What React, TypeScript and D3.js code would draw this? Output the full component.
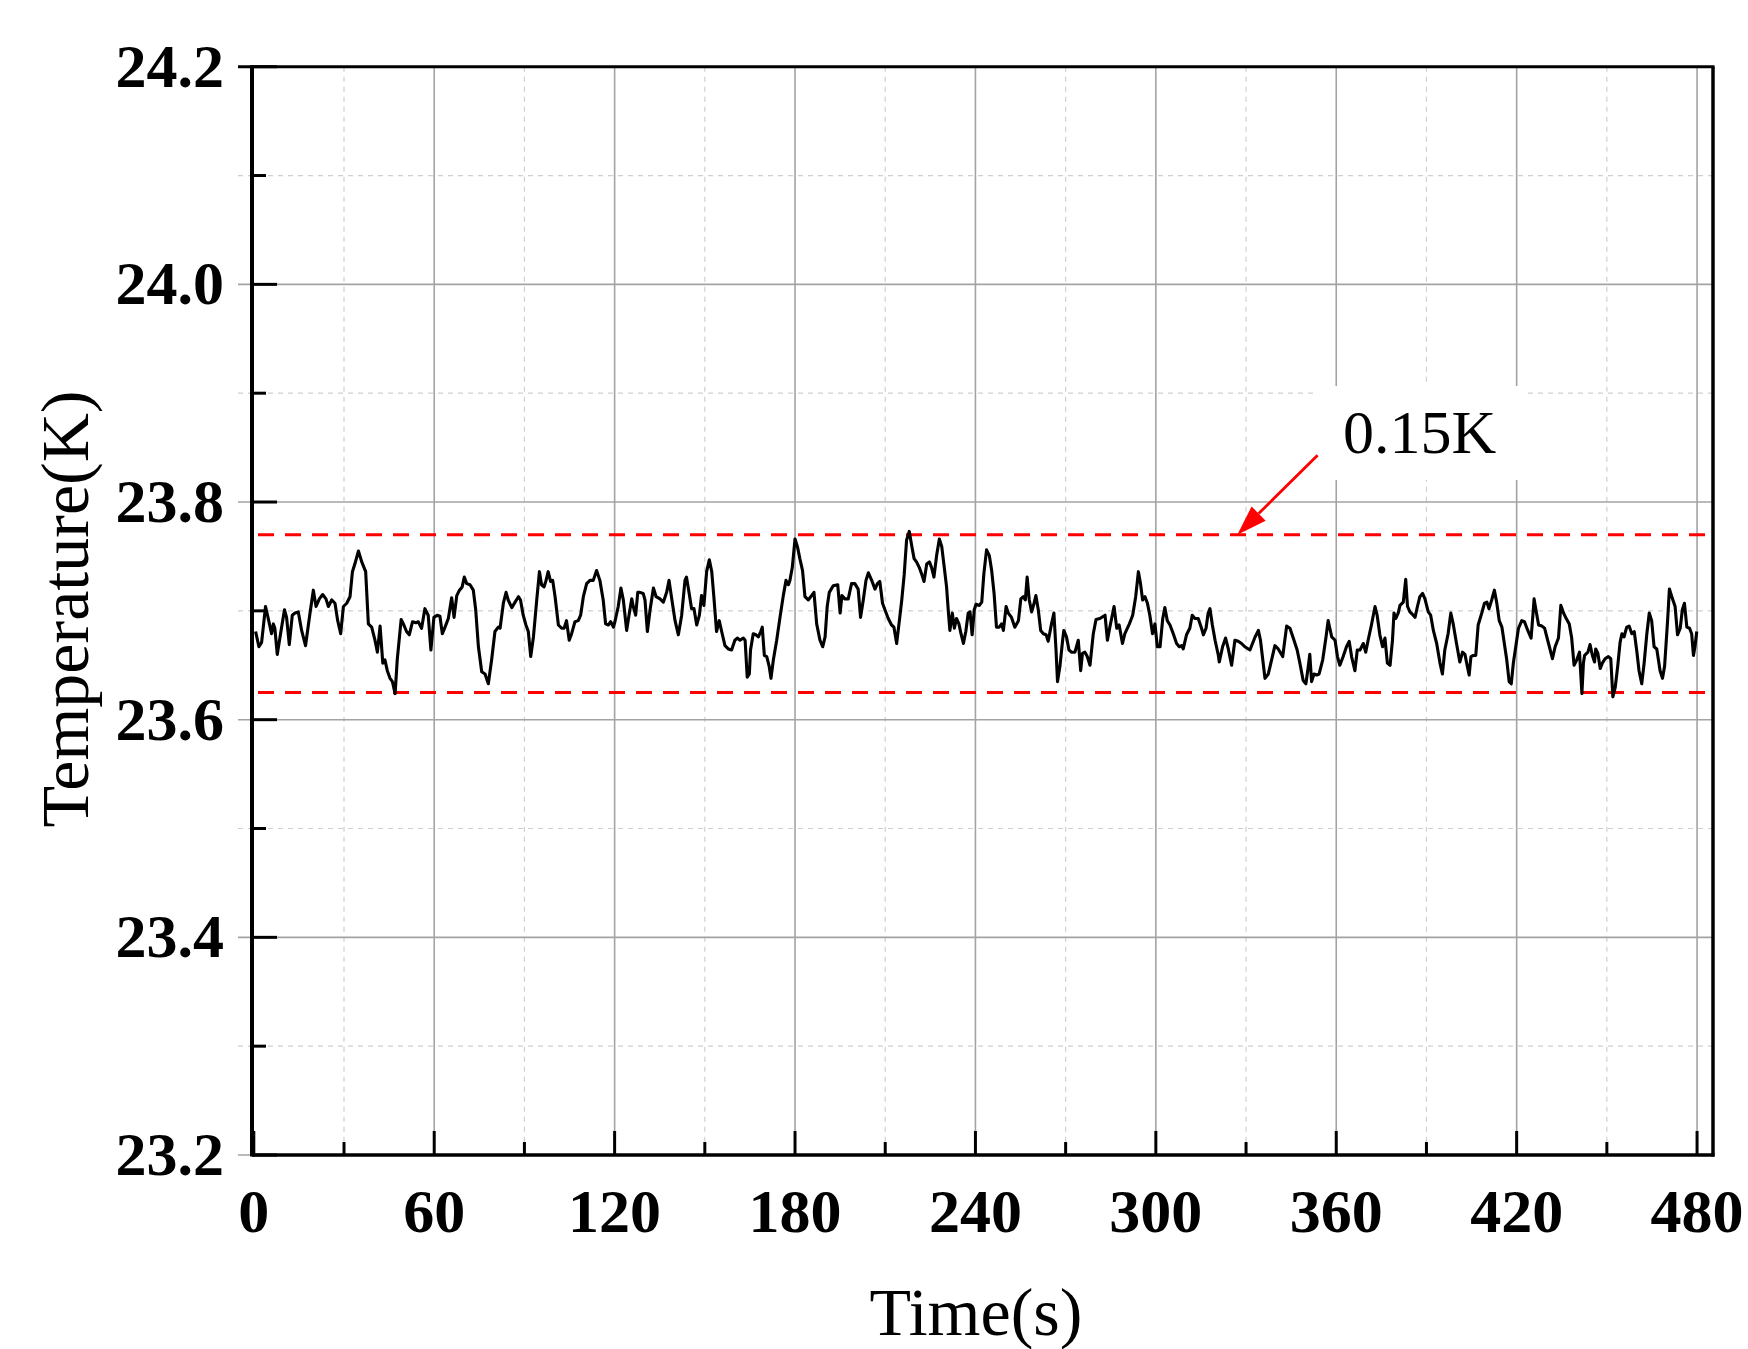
import React from 'react'
import * as d3 from 'd3'

// temperature trace, [time (s), temperature (K)]
const trace: [number, number][] = [
  [0.6, 23.681], [1.7, 23.667], [2.6, 23.671], [3.9, 23.704], [5.2, 23.688], [5.9, 23.679], [6.5, 23.688], [7.0, 23.684],
  [7.8, 23.66], [8.9, 23.679], [10.2, 23.701], [10.9, 23.694], [11.8, 23.669], [12.8, 23.696], [13.7, 23.698], [14.8, 23.699],
  [15.9, 23.682], [17.2, 23.668], [18.7, 23.698], [19.8, 23.719], [20.7, 23.704], [21.8, 23.711], [22.9, 23.715], [24.0, 23.711],
  [24.8, 23.704], [25.9, 23.71], [27.0, 23.707], [27.9, 23.691], [28.9, 23.679], [29.8, 23.704], [30.9, 23.707], [32.0, 23.713],
  [32.8, 23.736], [33.6, 23.743], [34.8, 23.755], [35.9, 23.745], [37.2, 23.736], [38.1, 23.688], [39.2, 23.685], [40.3, 23.673],
  [41.1, 23.662], [42.0, 23.686], [42.9, 23.652], [43.6, 23.655], [44.4, 23.645], [45.3, 23.638], [46.1, 23.635], [47.0, 23.624],
  [47.7, 23.655], [49.0, 23.692], [49.9, 23.687], [50.8, 23.681], [51.7, 23.678], [52.8, 23.69], [53.9, 23.689], [54.7, 23.69],
  [55.8, 23.684], [56.9, 23.702], [58.0, 23.696], [58.9, 23.664], [59.9, 23.694], [61.0, 23.696], [61.9, 23.695], [62.7, 23.679],
  [63.6, 23.685], [64.7, 23.693], [65.8, 23.712], [66.6, 23.694], [67.5, 23.714], [68.4, 23.719], [69.3, 23.722], [70.0, 23.731],
  [70.8, 23.725], [71.9, 23.724], [73.0, 23.719], [73.8, 23.701], [74.7, 23.667], [75.8, 23.644], [76.9, 23.642], [78.0, 23.633],
  [79.1, 23.655], [80.2, 23.681], [81.3, 23.685],
  [81.9, 23.684], [83.0, 23.707], [83.9, 23.717], [84.6, 23.71], [85.8, 23.703], [86.9, 23.708], [88.0, 23.713], [88.7, 23.71],
  [89.6, 23.696], [90.5, 23.687], [91.3, 23.681], [92.1, 23.658], [93.0, 23.676], [94.1, 23.71], [95.0, 23.736], [95.7, 23.724],
  [96.5, 23.722], [97.2, 23.728], [97.9, 23.736], [98.7, 23.727], [99.4, 23.728], [100.2, 23.713], [101.3, 23.687], [102.4, 23.684],
  [103.2, 23.684], [104.0, 23.691], [104.9, 23.673], [105.7, 23.679], [106.8, 23.69], [107.9, 23.691], [108.7, 23.696], [109.6, 23.713],
  [110.7, 23.725], [111.8, 23.728], [112.9, 23.728], [114.0, 23.737], [115.1, 23.728], [116.2, 23.71], [117.0, 23.688], [117.9, 23.687],
  [118.7, 23.69], [119.6, 23.685], [120.1, 23.69], [121.2, 23.704], [122.1, 23.721], [122.9, 23.71], [124.0, 23.682], [124.9, 23.698],
  [125.7, 23.711], [126.2, 23.704], [127.0, 23.696], [127.7, 23.717], [128.4, 23.717], [129.5, 23.716], [130.1, 23.71], [130.9, 23.681],
  [131.8, 23.701], [132.9, 23.721], [133.8, 23.713], [135.1, 23.711], [136.2, 23.708], [137.3, 23.717], [138.1, 23.728], [139.0, 23.711],
  [140.1, 23.691], [141.2, 23.678], [142.3, 23.696], [143.4, 23.728], [143.9, 23.731], [144.8, 23.716], [145.6, 23.702], [146.4, 23.702],
  [147.3, 23.687], [148.2, 23.696], [148.9, 23.714], [149.7, 23.705], [150.6, 23.736], [151.5, 23.747], [152.3, 23.736], [153.0, 23.713],
  [153.9, 23.681], [154.8, 23.691], [155.6, 23.681], [156.7, 23.668], [157.8, 23.665], [158.9, 23.664], [160.0, 23.673], [160.8, 23.675],
  [161.7, 23.673], [162.8, 23.675], [163.4, 23.673], [164.1, 23.639], [164.8, 23.642],
  [165.2, 23.664], [166.1, 23.679], [167.0, 23.678], [167.8, 23.676], [168.6, 23.681], [169.1, 23.685], [169.8, 23.659], [170.6, 23.658],
  [171.4, 23.649], [172.0, 23.638], [172.8, 23.655], [173.9, 23.673], [175.0, 23.694], [176.1, 23.714], [177.0, 23.728], [177.8, 23.724],
  [178.3, 23.728], [179.1, 23.74], [180.0, 23.766], [180.8, 23.759], [181.6, 23.748], [182.5, 23.737], [183.3, 23.713], [184.4, 23.71],
  [185.5, 23.714], [186.3, 23.717], [187.2, 23.688], [188.3, 23.673], [189.2, 23.667], [190.0, 23.676], [190.7, 23.704], [191.4, 23.717],
  [192.7, 23.723], [194.2, 23.724], [195.0, 23.698], [195.6, 23.714], [196.6, 23.711], [197.7, 23.711], [198.8, 23.725], [199.9, 23.725],
  [201.0, 23.72], [201.8, 23.694], [202.7, 23.71], [203.6, 23.728], [204.4, 23.735], [205.5, 23.728], [206.6, 23.72], [207.4, 23.725],
  [208.2, 23.727], [209.1, 23.707], [209.9, 23.701], [211.0, 23.693], [212.1, 23.687], [212.9, 23.685], [213.8, 23.67], [214.7, 23.691],
  [215.5, 23.71], [216.3, 23.733], [217.1, 23.765], [218.0, 23.773], [218.8, 23.76], [219.6, 23.748], [220.4, 23.745], [221.3, 23.74],
  [222.1, 23.734], [222.9, 23.727], [223.8, 23.743], [224.7, 23.745], [225.4, 23.74], [226.2, 23.731], [227.1, 23.751], [228.0, 23.766],
  [228.8, 23.759], [229.5, 23.743], [230.4, 23.722], [231.0, 23.699], [231.5, 23.682], [232.3, 23.698], [233.0, 23.684], [233.7, 23.693],
  [234.5, 23.688], [235.2, 23.679], [236.0, 23.67], [236.8, 23.681], [237.6, 23.698], [238.2, 23.699], [238.9, 23.678], [239.6, 23.701],
  [240.2, 23.706], [241.3, 23.705], [242.1, 23.708], [242.8, 23.734], [243.7, 23.756], [244.6, 23.751], [245.4, 23.737], [246.2, 23.716],
  [247.0, 23.685], [247.9, 23.685],
  [248.7, 23.688], [249.3, 23.682], [250.2, 23.704], [250.9, 23.698], [252.0, 23.694], [253.1, 23.685], [254.3, 23.691], [255.1, 23.711],
  [255.9, 23.713], [256.6, 23.71], [257.2, 23.731], [257.9, 23.71], [258.7, 23.699], [259.5, 23.707], [260.1, 23.714], [260.9, 23.701],
  [261.7, 23.682], [262.6, 23.679], [263.5, 23.678], [264.2, 23.672], [265.3, 23.688], [266.1, 23.698], [266.8, 23.664], [267.3, 23.635],
  [268.1, 23.649], [269.0, 23.673], [269.4, 23.682], [270.3, 23.676], [271.1, 23.664], [272.0, 23.662], [273.1, 23.662], [274.2, 23.673],
  [275.0, 23.645], [275.6, 23.661], [276.4, 23.662], [277.2, 23.658], [278.1, 23.65], [279.2, 23.679], [280.1, 23.692], [281.4, 23.693],
  [283.1, 23.696], [283.9, 23.673], [284.7, 23.685], [286.1, 23.704], [287.0, 23.684], [287.8, 23.687], [288.9, 23.67], [289.7, 23.679],
  [291.2, 23.688], [292.3, 23.696], [293.3, 23.713], [294.2, 23.736], [294.9, 23.725], [295.6, 23.71], [296.4, 23.713], [297.2, 23.707],
  [298.0, 23.696], [298.9, 23.679], [299.7, 23.688], [300.5, 23.667], [301.4, 23.667], [302.3, 23.693], [303.0, 23.703], [303.8, 23.691],
  [304.7, 23.687], [305.8, 23.679], [306.9, 23.67], [307.8, 23.667], [308.6, 23.668], [309.1, 23.665], [310.2, 23.678], [311.3, 23.684],
  [312.1, 23.696], [313.0, 23.693], [314.1, 23.693], [315.2, 23.684], [315.8, 23.678], [316.7, 23.684], [317.4, 23.698], [318.0, 23.702],
  [318.8, 23.687], [319.7, 23.673], [320.8, 23.659], [321.1, 23.653], [322.2, 23.667], [323.2, 23.675], [324.1, 23.665], [325.2, 23.65],
  [326.3, 23.673], [327.4, 23.672], [328.5, 23.67], [329.6, 23.667],
  [331.3, 23.664], [333.0, 23.676], [334.1, 23.682], [334.8, 23.673], [336.3, 23.638], [337.4, 23.642], [338.5, 23.655], [339.6, 23.668],
  [340.7, 23.665], [342.2, 23.658], [343.5, 23.686], [344.6, 23.684], [345.7, 23.675], [347.0, 23.664], [347.9, 23.652], [349.0, 23.636],
  [349.9, 23.633], [350.7, 23.649], [351.2, 23.66], [351.8, 23.635], [352.6, 23.642], [353.5, 23.641], [354.3, 23.642], [355.5, 23.655],
  [356.6, 23.676], [357.3, 23.691], [358.5, 23.676], [359.6, 23.673], [360.4, 23.658], [361.2, 23.65], [362.3, 23.658], [363.4, 23.667],
  [364.3, 23.672], [365.1, 23.658], [366.2, 23.645], [367.0, 23.664], [367.9, 23.664], [369.0, 23.67], [369.8, 23.662], [370.6, 23.673],
  [371.7, 23.687], [372.9, 23.704], [373.6, 23.696], [374.5, 23.678], [375.4, 23.667], [376.2, 23.675], [377.0, 23.652], [377.9, 23.65],
  [378.7, 23.673], [379.2, 23.698], [379.8, 23.693], [380.6, 23.698], [381.2, 23.705], [382.3, 23.708], [383.1, 23.729], [383.7, 23.704],
  [384.5, 23.699], [385.6, 23.696], [386.2, 23.694], [387.0, 23.704], [387.8, 23.713], [388.7, 23.716], [389.5, 23.711], [390.6, 23.699],
  [391.4, 23.696], [392.3, 23.682], [393.4, 23.67], [394.5, 23.652], [395.3, 23.642], [396.1, 23.664], [397.2, 23.679], [398.1, 23.698],
  [398.9, 23.688], [400.0, 23.67], [401.1, 23.653], [402.0, 23.662], [402.8, 23.66], [403.6, 23.649], [404.2, 23.641], [404.8, 23.658],
  [405.6, 23.659], [406.4, 23.659], [407.2, 23.687],
  [408.4, 23.698], [409.3, 23.707], [410.1, 23.708], [410.8, 23.702], [411.7, 23.71], [412.6, 23.719], [413.4, 23.707], [414.2, 23.691],
  [415.1, 23.685], [415.9, 23.67], [416.7, 23.655], [417.5, 23.635], [418.2, 23.633], [418.9, 23.652], [419.7, 23.667], [420.6, 23.684],
  [421.7, 23.691], [422.6, 23.69], [423.7, 23.682], [424.8, 23.675], [425.4, 23.696], [425.8, 23.711], [426.4, 23.701], [427.3, 23.687],
  [428.4, 23.686], [429.3, 23.684], [430.6, 23.67], [431.9, 23.656], [432.8, 23.667], [433.9, 23.675], [434.7, 23.705], [435.6, 23.698],
  [436.3, 23.694], [437.5, 23.688], [438.3, 23.675], [439.1, 23.65], [440.0, 23.655], [440.9, 23.662], [441.7, 23.624], [442.2, 23.652],
  [442.6, 23.659], [443.7, 23.662], [444.4, 23.669], [445.2, 23.659], [445.9, 23.653], [446.3, 23.665], [447.0, 23.661], [447.8, 23.647],
  [448.5, 23.652], [449.4, 23.656], [450.5, 23.658], [451.3, 23.656], [452.0, 23.621], [452.8, 23.63], [453.6, 23.649], [454.4, 23.671],
  [455.0, 23.679], [455.7, 23.676], [456.6, 23.685], [457.4, 23.686], [458.3, 23.679], [459.1, 23.681], [460.0, 23.662], [460.7, 23.645],
  [461.6, 23.633], [462.4, 23.652], [463.3, 23.679], [464.1, 23.698], [464.9, 23.691], [465.7, 23.667], [466.6, 23.665], [467.7, 23.645],
  [468.5, 23.638], [469.2, 23.649], [470.2, 23.691], [470.8, 23.72], [471.6, 23.713], [472.7, 23.704], [473.5, 23.678], [474.4, 23.684],
  [475.1, 23.701], [475.8, 23.707], [476.6, 23.685], [477.5, 23.684], [478.2, 23.679], [478.8, 23.659], [479.3, 23.667], [479.9, 23.681],
]

const xTicks = [0, 60, 120, 180, 240, 300, 360, 420, 480]
const xMinor = [30, 90, 150, 210, 270, 330, 390, 450]
const yTicks = [23.2, 23.4, 23.6, 23.8, 24.0, 24.2]
const yMinor = [23.3, 23.5, 23.7, 23.9, 24.1]

// band limits marked by the red dashed lines
const bandLimits = [23.77, 23.625]
const bandSpan = [1.4, 483.4]
const bandLabel = '0.15K'
// arrow from the label down to the upper limit
const arrowFrom: [number, number] = [353.8, 23.843]
const arrowTo: [number, number] = [327.1, 23.77]

const serif = "'Times New Roman', 'Liberation Serif', serif"

const App = () => {
  const W = 1748
  const H = 1349
  const left = 252
  const right = 1713
  const top = 66.7
  const bottom = 1155

  const x = d3.scaleLinear().domain([-0.6, 485.3]).range([left, right])
  const y = d3.scaleLinear().domain([23.2, 24.2]).range([bottom, top])

  const line = d3.line<[number, number]>()
    .x((d) => x(d[0]))
    .y((d) => y(d[1]))

  // arrow head
  const tx = x(arrowTo[0]), ty = y(arrowTo[1])
  const fx = x(arrowFrom[0]), fy = y(arrowFrom[1])
  const len = Math.hypot(fx - tx, fy - ty)
  const ux = (fx - tx) / len, uy = (fy - ty) / len
  const hl = 30, hw = 10
  const bx = tx + ux * hl, by = ty + uy * hl
  const head = `M${tx},${ty} L${bx - uy * hw},${by + ux * hw} L${bx + uy * hw},${by - ux * hw} Z`

  return (
    <svg width={W} height={H} style={{ position: 'absolute', left: 0, top: 0, background: '#fff' }}>
      {/* grid */}
      {yMinor.map((v) => (
        <line key={'ym' + v} x1={238} x2={right} y1={y(v)} y2={y(v)} stroke="#cfcfcf" strokeWidth={1.2} strokeDasharray="5 5" />
      ))}
      {xMinor.map((v) => (
        <line key={'xm' + v} x1={x(v)} x2={x(v)} y1={top} y2={bottom} stroke="#cfcfcf" strokeWidth={1.2} strokeDasharray="5 5" />
      ))}
      {yTicks.map((v) => (
        <line key={'yg' + v} x1={238} x2={right} y1={y(v)} y2={y(v)} stroke="#a3a3a3" strokeWidth={1.6} />
      ))}
      {xTicks.slice(1).map((v) => (
        <line key={'xg' + v} x1={x(v)} x2={x(v)} y1={top} y2={bottom} stroke="#a3a3a3" strokeWidth={1.6} />
      ))}

      {/* label box */}
      <rect x={1315} y={386} width={210} height={94} fill="#fff" />

      {/* limits */}
      {bandLimits.map((v) => (
        <line key={'b' + v} x1={x(bandSpan[0])} x2={x(bandSpan[1])} y1={y(v)} y2={y(v)}
          stroke="#ff0000" strokeWidth={3} strokeDasharray="16 11" />
      ))}

      {/* data */}
      <path d={line(trace) ?? ''} fill="none" stroke="#000" strokeWidth={3.1} strokeLinejoin="round" />

      {/* annotation */}
      <line x1={fx} y1={fy} x2={bx} y2={by} stroke="#ff0000" strokeWidth={2.8} />
      <path d={head} fill="#ff0000" />
      <text x={1343} y={452.7} fontFamily={serif} fontSize={62}>{bandLabel}</text>

      {/* frame */}
      <line x1={238} x2={right + 1.5} y1={top} y2={top} stroke="#000" strokeWidth={3} />
      <line x1={right} x2={right} y1={top} y2={bottom + 1.5} stroke="#000" strokeWidth={3.5} />
      <line x1={left} x2={right + 1.5} y1={bottom} y2={bottom} stroke="#000" strokeWidth={3.5} />
      <line x1={left} x2={left} y1={top - 1.5} y2={bottom + 1.5} stroke="#000" strokeWidth={4} />

      {/* y ticks */}
      {yTicks.map((v) => (
        <g key={'yt' + v}>
          <line x1={left} x2={left + 25} y1={y(v)} y2={y(v)} stroke="#000" strokeWidth={3} />
          <text x={224} y={y(v)} dy="0.32em" textAnchor="end" fontFamily={serif} fontWeight="bold" fontSize={62}>
            {d3.format('.1f')(v)}
          </text>
        </g>
      ))}
      {yMinor.map((v) => (
        <line key={'ymt' + v} x1={left} x2={left + 14} y1={y(v)} y2={y(v)} stroke="#000" strokeWidth={3} />
      ))}

      {/* x ticks */}
      {xTicks.map((v) => (
        <g key={'xt' + v}>
          <line x1={x(v)} x2={x(v)} y1={bottom} y2={bottom - 24} stroke="#000" strokeWidth={3} />
          <text x={x(v)} y={1232} textAnchor="middle" fontFamily={serif} fontWeight="bold" fontSize={62}>{v}</text>
        </g>
      ))}
      {xMinor.map((v) => (
        <line key={'xmt' + v} x1={x(v)} x2={x(v)} y1={bottom} y2={bottom - 13} stroke="#000" strokeWidth={3} />
      ))}

      {/* axis titles */}
      <text x={976} y={1335} textAnchor="middle" fontFamily={serif} fontSize={68}>Time(s)</text>
      <text transform={`translate(88, 609) rotate(-90)`} textAnchor="middle" fontFamily={serif} fontSize={68}>
        Temperature(K)
      </text>
    </svg>
  )
}

export default App
